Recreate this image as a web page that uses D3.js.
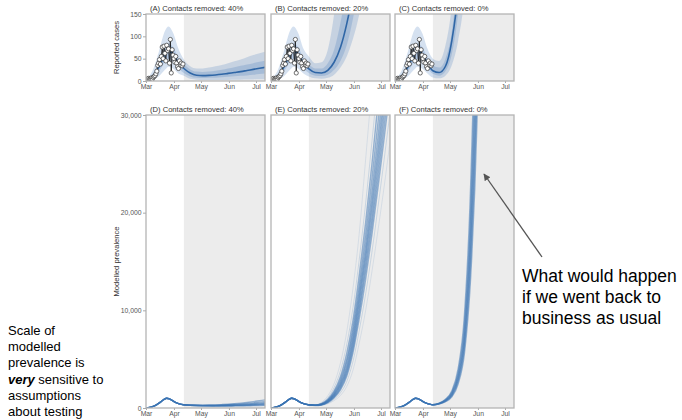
<!DOCTYPE html>
<html>
<head>
<meta charset="utf-8">
<script src="https://cdn.jsdelivr.net/npm/d3@7"></script>
<style>
  body { margin: 0; background: #fff; }
  svg { font-family: "Liberation Sans", Arial, Helvetica, sans-serif; display: block; }
</style>
</head>
<body>
<svg id="chart" width="682" height="420"></svg>
<script>
// ---- Calendar -------------------------------------------------------------
const startDate = "2020-03-01";
const endDate = "2020-07-11";
const policyDate = "2020-04-12";
const monthTicks = ["2020-03-01", "2020-04-01", "2020-05-01", "2020-06-01", "2020-07-01"];
const monthLabels = ["Mar", "Apr", "May", "Jun", "Jul"];

// ---- Panel titles -----------------------------------------------------------
const topTitles = ["(A) Contacts removed: 40%", "(B) Contacts removed: 20%", "(C) Contacts removed: 0%"];
const bottomTitles = ["(D) Contacts removed: 40%", "(E) Contacts removed: 20%", "(F) Contacts removed: 0%"];

// ---- Reported cases (days after 1 March) -----------------------------------
const caseDays = d3.range(0, 42);
const caseValues = [2, 3, 5, 6, 4, 5, 7, 4, 8, 10, 12, 16, 22, 35, 40, 48, 38, 55, 76, 50,
  78, 62, 45, 80, 68, 72, 40, 93, 18, 70, 58, 50, 42, 55, 40, 32, 28, 45, 36, 40, 34, 38];
const caseTicks = [0, 50, 100, 150];

// ---- Fitted reported-case model (median, 50% and 95% bands) -----------------
const fitDaysEarly = [0, 7, 14, 21, 25, 30, 36];
const fitMedianEarly = [3, 10, 30, 58, 67, 60, 40];
const fitInnerLoEarly = [2, 6, 20, 42, 50, 45, 28];
const fitInnerHiEarly = [4, 14, 42, 76, 84, 76, 52];
const fitOuterLoEarly = [1, 3, 10, 25, 32, 28, 17];
const fitOuterHiEarly = [5, 22, 64, 112, 122, 108, 72];

const fitDaysLate = [42, 49, 56, 63, 70, 77, 84, 91, 98, 105, 112, 119, 126, 133];
// 40% of contacts removed
const fitMedian40 = [28, 18, 13, 12, 12.5, 13.5, 15, 17, 19, 21, 23.5, 26, 28.5, 31];
const fitInnerLo40 = [18, 10, 7, 6.5, 7, 7.5, 8.5, 9.5, 10.5, 11.5, 12.5, 14, 15.5, 17];
const fitInnerHi40 = [38, 26, 21, 20, 21, 23, 25, 28, 31, 34, 37, 40, 43, 46];
const fitOuterLo40 = [12, 5, 3, 2, 2, 2, 2.5, 2.5, 3, 3, 3.5, 3.5, 4, 4];
const fitOuterHi40 = [48, 33, 28, 28, 30, 33, 36, 40, 44, 48, 53, 58, 62, 66];
// 20% of contacts removed
const fitMedian20 = [27, 19, 18, 24, 42, 75, 128, 200, 300, 420, 560, 720, 900, 1100];
const fitInnerLo20 = [18, 12, 11, 14, 25, 45, 80, 140, 220, 320, 440, 580, 740, 920];
const fitInnerHi20 = [38, 28, 28, 40, 70, 130, 210, 320, 450, 600, 780, 980, 1200, 1450];
const fitOuterLo20 = [10, 6, 5, 7, 14, 30, 55, 95, 150, 230, 330, 450, 600, 780];
const fitOuterHi20 = [55, 40, 42, 70, 150, 280, 450, 650, 880, 1150, 1450, 1800, 2200, 2600];
// no contacts removed
const fitMedian0 = [23, 19, 33, 90, 200, 420, 800, 1400, 2300, 3500, 5000, 7000, 9500, 12500];
const fitInnerLo0 = [16, 12, 22, 60, 150, 300, 600, 1100, 1900, 3000, 4400, 6200, 8500, 11000];
const fitInnerHi0 = [35, 30, 50, 110, 250, 520, 1000, 1700, 2700, 4000, 5700, 7800, 10500, 14000];
const fitOuterLo0 = [8, 6, 12, 35, 90, 190, 400, 750, 1300, 2100, 3200, 4600, 6400, 8600];
const fitOuterHi0 = [50, 45, 80, 170, 360, 700, 1300, 2200, 3400, 5000, 7000, 9500, 12500, 16000];

// ---- Modelled prevalence: sampled trajectories --------------------------------
const prevTicks = [0, 10000, 20000, 30000];
const prevDaysEarly = [0, 4, 8, 12, 16, 20, 23, 26, 30, 34, 38, 42];
const prevEarly = [20, 70, 170, 350, 600, 880, 1000, 930, 720, 530, 400, 330];
const prevDaysLate = [49, 56, 63, 70, 77, 84, 91, 98, 105, 112, 119, 126, 133];

const prev40 = [
  [300, 290, 290, 300, 320, 350, 390, 440, 500, 570, 650, 740, 850],
  [290, 275, 270, 275, 290, 310, 340, 380, 420, 470, 530, 600, 680],
  [285, 265, 255, 255, 265, 280, 300, 330, 360, 400, 445, 495, 550],
  [280, 260, 245, 240, 245, 255, 270, 290, 315, 345, 380, 420, 465],
  [275, 255, 240, 232, 233, 240, 250, 265, 285, 310, 340, 370, 405],
  [270, 250, 232, 222, 220, 222, 228, 238, 252, 270, 290, 315, 340],
  [265, 245, 225, 213, 208, 206, 208, 213, 220, 230, 242, 258, 275]
];
const prev20 = [
  [320, 580, 1250, 2500, 4600, 7800, 12300, 18000, 25500, 33000, 40500, 48000, 56000],
  [305, 500, 1050, 2100, 3800, 6500, 10300, 15300, 21000, 27300, 34000, 41000, 48000],
  [295, 440, 900, 1750, 3200, 5600, 9000, 13700, 19000, 25000, 31500, 38500, 46000],
  [290, 410, 820, 1600, 2900, 5000, 8300, 12700, 17800, 23500, 29500, 36000, 43000],
  [285, 390, 760, 1480, 2650, 4700, 7800, 12000, 16800, 22200, 28000, 34200, 40800],
  [280, 370, 710, 1380, 2450, 4300, 7300, 11400, 16000, 21200, 26800, 32800, 39000],
  [275, 355, 670, 1300, 2300, 4000, 6900, 10900, 15400, 20400, 25800, 31600, 37600],
  [270, 340, 630, 1200, 2150, 3750, 6500, 10300, 14700, 19500, 24800, 30400, 36200],
  [265, 325, 590, 1120, 2000, 3500, 6100, 9800, 14000, 18700, 23800, 29200, 34800],
  [260, 310, 550, 1040, 1850, 3250, 5700, 9200, 13200, 17800, 22800, 28000, 33400],
  [255, 290, 490, 900, 1550, 2700, 4800, 8000, 11700, 16000, 20800, 25800, 31000],
  [250, 275, 430, 760, 1280, 2200, 3900, 6700, 10000, 14000, 18400, 23000, 28000]
];
const prev0 = [
  [500, 900, 1750, 4000, 9500, 23000, 50000, 100000, 200000],
  [480, 840, 1600, 3600, 8500, 20500, 45000, 92000, 180000],
  [465, 790, 1500, 3350, 7800, 19000, 41000, 85000, 170000],
  [450, 750, 1400, 3100, 7200, 17500, 38000, 80000, 160000],
  [440, 720, 1320, 2900, 6700, 16200, 35000, 74000, 150000],
  [425, 680, 1230, 2700, 6200, 15000, 32500, 68000, 140000],
  [410, 640, 1130, 2450, 5600, 13500, 29500, 62000, 128000]
];

// ---- Drawing ---------------------------------------------------------------
const parse = d3.timeParse("%Y-%m-%d");
const t0 = parse(startDate);
const dayDate = d => d3.timeDay.offset(t0, d);

const svg = d3.select("#chart");
const panelLefts = [146, 271, 395];
const panelW = 119;
const rowTop = { y0: 14, y1: 81 };
const rowBot = { y0: 115, y1: 408 };

const blue = "#2f66a6";
const frameColor = "#b4b4b4";
const shadeColor = "#ececec";
const tickColor = "#555";

const yTop = d3.scaleLinear().domain([0, 150]).range([rowTop.y1, rowTop.y0]);
const yBot = d3.scaleLinear().domain([0, 30000]).range([rowBot.y1, rowBot.y0]);

const fitSets = [
  { med: fitMedian40, ilo: fitInnerLo40, ihi: fitInnerHi40, olo: fitOuterLo40, ohi: fitOuterHi40 },
  { med: fitMedian20, ilo: fitInnerLo20, ihi: fitInnerHi20, olo: fitOuterLo20, ohi: fitOuterHi20 },
  { med: fitMedian0, ilo: fitInnerLo0, ihi: fitInnerHi0, olo: fitOuterLo0, ohi: fitOuterHi0 }
];
const prevSets = [prev40, prev20, prev0];

const defs = svg.append("defs");

function panelFrame(i, row, key, title) {
  const L = panelLefts[i];
  const x = d3.scaleTime().domain([t0, parse(endDate)]).range([L, L + panelW]);
  const g = svg.append("g");
  const clipId = "clip-" + key + i;
  defs.append("clipPath").attr("id", clipId)
    .append("rect").attr("x", L).attr("y", row.y0).attr("width", panelW).attr("height", row.y1 - row.y0);
  // background and post-policy shading
  g.append("rect").attr("x", L).attr("y", row.y0).attr("width", panelW).attr("height", row.y1 - row.y0).attr("fill", "#fff");
  g.append("rect").attr("x", x(parse(policyDate))).attr("y", row.y0)
    .attr("width", L + panelW - x(parse(policyDate))).attr("height", row.y1 - row.y0).attr("fill", shadeColor);
  const plot = g.append("g").attr("clip-path", `url(#${clipId})`);
  // title
  svg.append("text").attr("x", L + 4).attr("y", row.y0 - 3.5)
    .attr("font-size", 7.6).attr("fill", "#333").text(title);
  // month axis
  const ax = svg.append("g").attr("transform", `translate(0,${row.y1})`)
    .call(d3.axisBottom(x).tickValues(monthTicks.map(parse)).tickFormat((d, k) => monthLabels[k]).tickSize(2).tickPadding(1.5));
  ax.select(".domain").remove();
  ax.selectAll("line").attr("stroke", "#aaa");
  ax.selectAll("text").attr("font-size", 6.8).attr("fill", tickColor).attr("font-family", null);
  return { x, g, plot, L, finish: () => {
    svg.append("rect").attr("x", L).attr("y", row.y0).attr("width", panelW).attr("height", row.y1 - row.y0)
      .attr("fill", "none").attr("stroke", frameColor).attr("stroke-width", 1.3);
  } };
}

// Top row: reported cases with fitted bands
topTitles.forEach((title, i) => {
  const p = panelFrame(i, rowTop, "top", title);
  const s = fitSets[i];
  const days = fitDaysEarly.concat(fitDaysLate);
  const pts = days.map((d, k) => ({
    date: dayDate(d),
    med: fitMedianEarly.concat(s.med)[k],
    ilo: fitInnerLoEarly.concat(s.ilo)[k],
    ihi: fitInnerHiEarly.concat(s.ihi)[k],
    olo: fitOuterLoEarly.concat(s.olo)[k],
    ohi: fitOuterHiEarly.concat(s.ohi)[k]
  }));
  const area = (lo, hi) => d3.area().x(d => p.x(d.date)).y0(d => yTop(d[lo])).y1(d => yTop(d[hi])).curve(d3.curveMonotoneX);
  p.plot.append("path").datum(pts).attr("d", area("olo", "ohi")).attr("fill", "#4f80bf").attr("fill-opacity", 0.24);
  p.plot.append("path").datum(pts).attr("d", area("ilo", "ihi")).attr("fill", "#4f80bf").attr("fill-opacity", 0.26);
  p.plot.append("path").datum(pts)
    .attr("d", d3.line().x(d => p.x(d.date)).y(d => yTop(d.med)).curve(d3.curveMonotoneX))
    .attr("fill", "none").attr("stroke", blue).attr("stroke-width", 1.6);

  const obs = caseDays.map((d, k) => ({ date: dayDate(d), v: caseValues[k] }));
  p.plot.append("path").datum(obs)
    .attr("d", d3.line().x(d => p.x(d.date)).y(d => yTop(d.v)))
    .attr("fill", "none").attr("stroke", "#111").attr("stroke-width", 0.8);
  p.plot.selectAll("circle.obs").data(obs).join("circle")
    .attr("cx", d => p.x(d.date)).attr("cy", d => yTop(d.v)).attr("r", 2.1)
    .attr("fill", "#fff").attr("stroke", "#333").attr("stroke-width", 0.7);
  p.finish();

  if (i === 0) {
    const ay = svg.append("g").attr("transform", `translate(${p.L},0)`)
      .call(d3.axisLeft(yTop).tickValues(caseTicks).tickSize(3).tickPadding(1.5));
    ay.select(".domain").remove();
    ay.selectAll("line").attr("stroke", "#aaa");
    ay.selectAll("text").attr("font-size", 6.8).attr("fill", tickColor).attr("font-family", null);
    svg.append("text").attr("transform", `translate(119,${(rowTop.y0 + rowTop.y1) / 2}) rotate(-90)`)
      .attr("text-anchor", "middle").attr("font-size", 7.6).attr("fill", "#333").text("Reported cases");
  }
});

// Bottom row: modelled prevalence trajectories
bottomTitles.forEach((title, i) => {
  const p = panelFrame(i, rowBot, "bot", title);
  const members = prevSets[i];
  const n = members.length;
  const line = d3.line().x(d => p.x(d.date)).y(d => yBot(d.v)).curve(d3.curveMonotoneX);
  members.forEach((m, k) => {
    const days = prevDaysEarly.concat(prevDaysLate.slice(0, m.length));
    const vals = prevEarly.concat(m);
    const pts = days.map((d, j) => ({ date: dayDate(d), v: vals[j] }));
    const edge = Math.min(k, n - 1 - k);
    const op = i === 1 ? (edge === 0 ? 0.14 : edge === 1 ? 0.22 : 0.5) : 0.5;
    p.plot.append("path").datum(pts).attr("d", line)
      .attr("fill", "none").attr("stroke", "#3a73b3").attr("stroke-opacity", op)
      .attr("stroke-width", i === 1 && edge <= 1 ? 0.9 : 1.4);
  });
  p.finish();

  if (i === 0) {
    const ay = svg.append("g").attr("transform", `translate(${p.L},0)`)
      .call(d3.axisLeft(yBot).tickValues(prevTicks).tickFormat(d3.format(",")).tickSize(3).tickPadding(1.5));
    ay.select(".domain").remove();
    ay.selectAll("line").attr("stroke", "#aaa");
    ay.selectAll("text").attr("font-size", 6.8).attr("fill", tickColor).attr("font-family", null);
    svg.append("text").attr("transform", `translate(119,${(rowBot.y0 + rowBot.y1) / 2}) rotate(-90)`)
      .attr("text-anchor", "middle").attr("font-size", 7.6).attr("fill", "#333").text("Modelled prevalence");
  }
});

// ---- Annotations -------------------------------------------------------------
defs.append("marker").attr("id", "arrowhead").attr("viewBox", "0 0 10 10")
  .attr("refX", 9).attr("refY", 5).attr("markerWidth", 7).attr("markerHeight", 7)
  .attr("markerUnits", "userSpaceOnUse").attr("orient", "auto")
  .append("path").attr("d", "M0,0 L10,5 L0,10 Z").attr("fill", "#555");
svg.append("line").attr("x1", 542).attr("y1", 257).attr("x2", 484).attr("y2", 174)
  .attr("stroke", "#555").attr("stroke-width", 1.3).attr("marker-end", "url(#arrowhead)");

const noteRight = ["What would happen", "if we went back to", "business as usual"];
svg.append("text").attr("font-size", 17.5).attr("fill", "#000")
  .selectAll("tspan").data(noteRight).join("tspan")
  .attr("x", 522).attr("y", (d, k) => 282 + k * 21).text(d => d);

const noteLeft = svg.append("text").attr("font-size", 13).attr("fill", "#000");
const leftLines = ["Scale of", "modelled", "prevalence is", null, "assumptions", "about testing"];
leftLines.forEach((t, k) => {
  const y = 335 + k * 16.2;
  if (t === null) {
    noteLeft.append("tspan").attr("x", 8).attr("y", y).attr("font-weight", "bold").attr("font-style", "italic").text("very");
    noteLeft.append("tspan").text(" sensitive to");
  } else {
    noteLeft.append("tspan").attr("x", 8).attr("y", y).text(t);
  }
});
</script>
</body>
</html>
